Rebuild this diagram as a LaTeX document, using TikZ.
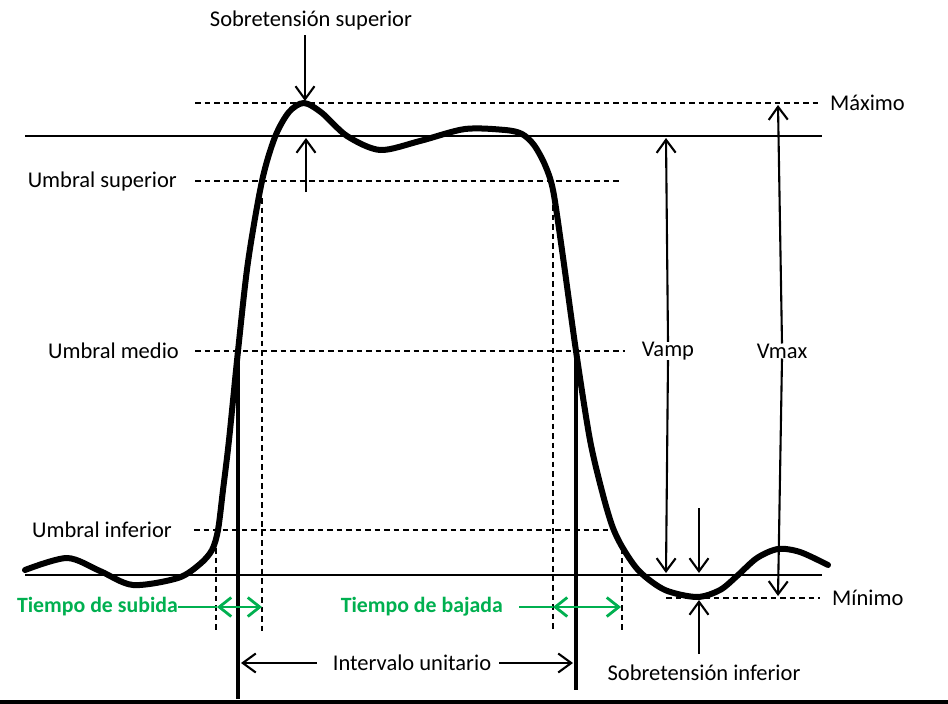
\documentclass[tikz,border=0pt]{standalone}
\usepackage{fontspec}
\setmainfont{Carlito}
\usetikzlibrary{arrows.meta}
\definecolor{grn}{RGB}{0,176,80}
\begin{document}
\begin{tikzpicture}[x=1pt,y=-1pt,
  lbl/.style={font=\fontsize{22.5}{24}\selectfont, inner sep=0pt},
  glbl/.style={font=\fontsize{21.8}{24}\selectfont\bfseries, text=grn, inner sep=0pt},
  dsh/.style={line width=1.3pt, dash pattern=on 5.5pt off 4pt},
  refl/.style={line width=2.6pt},
  bar/.style={line width=4.2pt},
  arr/.style={line width=2.1pt, -{Straight Barb[length=13pt,width=19pt,line width=2.1pt]}},
  garr/.style={line width=2.8pt, draw=grn},
  g2/.style={line width=2.8pt, draw=grn, {Straight Barb[length=12pt,width=19pt,line width=2.8pt]}-{Straight Barb[length=12pt,width=19pt,line width=2.8pt]}},
  wave/.style={line width=6pt, line cap=round, line join=round}
]
\fill[white] (0,0) rectangle (948,704);
\useasboundingbox (0,0) rectangle (948,704);
\fill[black] (0,700) rectangle (948,704);

% labels
\node[lbl] (sup) at (311,21) {Sobretensión superior};
\node[lbl,anchor=east] (usup) at (177,181) {Umbral superior};
\node[lbl,anchor=east] (umed) at (179,351) {Umbral medio};
\node[lbl,anchor=east] (uinf) at (172,530) {Umbral inferior};
\node[lbl,anchor=west] (max) at (830,103) {Máximo};
\node[lbl,anchor=west] (min) at (832,598) {Mínimo};
\node[lbl] (vamp) at (668,351) {Vamp};
\node[lbl] (vmax) at (782,351) {Vmax};
\node[lbl] (sinf) at (704,673) {Sobretensión inferior};
\node[lbl] (iu) at (412,663) {Intervalo unitario};
\node[glbl,anchor=east] (ts) at (178,607) {Tiempo de subida};
\node[glbl,anchor=east] (tb) at (503,607) {Tiempo de bajada};

% coordinates
\coordinate (maxA) at (195,103); \coordinate (maxB) at (820,103);
\coordinate (usA) at (195,181); \coordinate (usB) at (620,181);
\coordinate (umA) at (195,351); \coordinate (umB) at (625,351);
\coordinate (uiA) at (194,530); \coordinate (uiB) at (613,530);
\coordinate (minA) at (666,598); \coordinate (minB) at (820,598);
\coordinate (topA) at (25,136); \coordinate (topB) at (822,136);
\coordinate (botA) at (25,575); \coordinate (botB) at (822,575);

% dashed reference lines
\draw[dsh] (maxA) -- (maxB);
\draw[dsh] (usA) -- (usB);
\draw[dsh] (umA) -- (umB);
\draw[dsh] (uiA) -- (uiB);
\draw[dsh] (minA) -- (minB);
\draw[dsh] (216,548) -- (216,632);
\draw[dsh] (262,198) -- (262,632);
\draw[dsh] (553,186) -- (553,632);
\draw[dsh] (622,548) -- (622,632);

% solid reference lines
\draw[refl] (topA) -- (topB);
\draw[refl] (botA) -- (botB);

% unit interval bars
\coordinate (m1) at (238,351); \coordinate (m2) at (576,351);
\coordinate (b1) at (238,699); \coordinate (b2) at (576,690);
\draw[bar] (m1) -- (b1);
\draw[bar] (m2) -- (b2);

% waveform
\draw[wave] plot[smooth, tension=0.5] coordinates {
 (25,570) (67,558) (100,571) (133,585) (178,578) (200,564) (212,550) (218,530) (223,490) (229,440) (238,351)
 (248,262) (262,181) (275,137) (289,112) (304,103) (322,113) (347,136) (380,150) (420,141) (465,129)
 (505,130) (522,134) (534,145) (545,165) (553,190) (562,250) (576,351)
 (590,440) (603,495) (613,528) (624,550) (640,572) (665,590) (697,597) (720,590) (737,576)
 (757,558) (778,549) (800,552) (828,565)};

% overshoot arrows
\coordinate (pk) at (305,101);
\draw[arr] (305,35) -- (pk);
\draw[arr] (306,192) -- (306,138);
\draw[arr] (699,654) -- (699,600);
\draw[arr] (699,508) -- (699,573);

% Vamp / Vmax
\draw[arr] (vamp.north) -- (666,138);
\draw[arr] (vamp.south) -- (666,573);
\draw[arr] (vmax.north) -- (778,105);
\draw[arr] (vmax.south) -- (778,596);

% unit interval arrows
\draw[arr] ([xshift=-16pt]iu.west) -- (241,663);
\draw[arr] ([xshift=8pt]iu.east) -- (573,663);

% rise / fall time
\coordinate (r1) at (217,607); \coordinate (r2) at (262,607);
\coordinate (f1) at (553,607); \coordinate (f2) at (621,607);
\draw[garr] (ts.east) -- (r1);
\draw[g2] (r1) -- (r2);
\draw[garr] ([xshift=16pt]tb.east) -- (f1);
\draw[g2] (f1) -- (f2);
\end{tikzpicture}
\end{document}
